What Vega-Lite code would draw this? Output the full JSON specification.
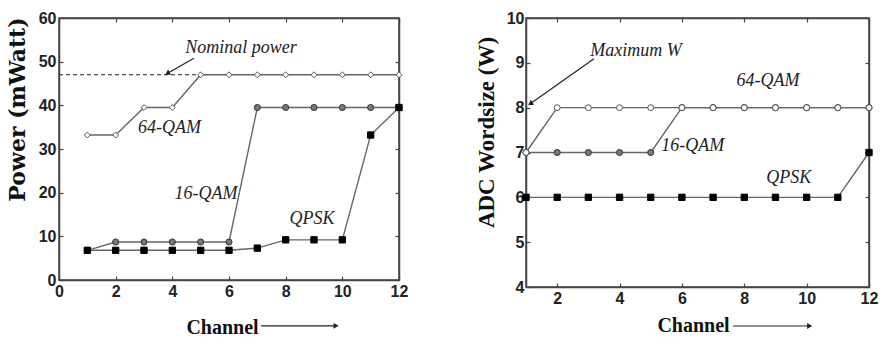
{
  "$schema": "https://vega.github.io/schema/vega-lite/v6.json",
  "background": "white",
  "padding": {"left": 5, "top": 9, "right": 0, "bottom": 0},
  "spacing": 65,
  "config": {
    "view": {"stroke": "#444", "strokeWidth": 1.5},
    "axis": {
      "grid": false,
      "labelFont": "Liberation Sans",
      "labelFontWeight": "bold",
      "labelFontSize": 16,
      "labelColor": "#222",
      "labelFlush": false,
      "tickColor": "#444",
      "tickSize": -4,
      "tickWidth": 1.2,
      "labelPadding": 7,
      "domainColor": "#444",
      "domainWidth": 1.5,
      "titleFont": "Liberation Serif",
      "titleFontWeight": "bold",
      "titleColor": "#111"
    },
    "text": {"font": "Liberation Serif", "fontStyle": "italic", "fontSize": 18, "color": "#222"}
  },
  "resolve": {"scale": {"shape": "independent", "fill": "independent", "stroke": "independent", "size": "independent"}},
  "datasets": {
    "power": [
      {"series": "16-QAM", "channel": 1, "value": 6.8},
      {"series": "16-QAM", "channel": 2, "value": 8.7},
      {"series": "16-QAM", "channel": 3, "value": 8.7},
      {"series": "16-QAM", "channel": 4, "value": 8.7},
      {"series": "16-QAM", "channel": 5, "value": 8.7},
      {"series": "16-QAM", "channel": 6, "value": 8.7},
      {"series": "16-QAM", "channel": 7, "value": 39.5},
      {"series": "16-QAM", "channel": 8, "value": 39.5},
      {"series": "16-QAM", "channel": 9, "value": 39.5},
      {"series": "16-QAM", "channel": 10, "value": 39.5},
      {"series": "16-QAM", "channel": 11, "value": 39.5},
      {"series": "16-QAM", "channel": 12, "value": 39.5},
      {"series": "64-QAM", "channel": 1, "value": 33.2},
      {"series": "64-QAM", "channel": 2, "value": 33.2},
      {"series": "64-QAM", "channel": 3, "value": 39.5},
      {"series": "64-QAM", "channel": 4, "value": 39.5},
      {"series": "64-QAM", "channel": 5, "value": 47},
      {"series": "64-QAM", "channel": 6, "value": 47},
      {"series": "64-QAM", "channel": 7, "value": 47},
      {"series": "64-QAM", "channel": 8, "value": 47},
      {"series": "64-QAM", "channel": 9, "value": 47},
      {"series": "64-QAM", "channel": 10, "value": 47},
      {"series": "64-QAM", "channel": 11, "value": 47},
      {"series": "64-QAM", "channel": 12, "value": 47},
      {"series": "QPSK", "channel": 1, "value": 6.8},
      {"series": "QPSK", "channel": 2, "value": 6.8},
      {"series": "QPSK", "channel": 3, "value": 6.8},
      {"series": "QPSK", "channel": 4, "value": 6.8},
      {"series": "QPSK", "channel": 5, "value": 6.8},
      {"series": "QPSK", "channel": 6, "value": 6.8},
      {"series": "QPSK", "channel": 7, "value": 7.3},
      {"series": "QPSK", "channel": 8, "value": 9.2},
      {"series": "QPSK", "channel": 9, "value": 9.2},
      {"series": "QPSK", "channel": 10, "value": 9.2},
      {"series": "QPSK", "channel": 11, "value": 33.2},
      {"series": "QPSK", "channel": 12, "value": 39.5}
    ],
    "wordsize": [
      {"series": "16-QAM", "channel": 1, "value": 7},
      {"series": "16-QAM", "channel": 2, "value": 7},
      {"series": "16-QAM", "channel": 3, "value": 7},
      {"series": "16-QAM", "channel": 4, "value": 7},
      {"series": "16-QAM", "channel": 5, "value": 7},
      {"series": "16-QAM", "channel": 6, "value": 8},
      {"series": "16-QAM", "channel": 7, "value": 8},
      {"series": "16-QAM", "channel": 8, "value": 8},
      {"series": "16-QAM", "channel": 9, "value": 8},
      {"series": "16-QAM", "channel": 10, "value": 8},
      {"series": "16-QAM", "channel": 11, "value": 8},
      {"series": "16-QAM", "channel": 12, "value": 8},
      {"series": "64-QAM", "channel": 1, "value": 7},
      {"series": "64-QAM", "channel": 2, "value": 8},
      {"series": "64-QAM", "channel": 3, "value": 8},
      {"series": "64-QAM", "channel": 4, "value": 8},
      {"series": "64-QAM", "channel": 5, "value": 8},
      {"series": "64-QAM", "channel": 6, "value": 8},
      {"series": "64-QAM", "channel": 7, "value": 8},
      {"series": "64-QAM", "channel": 8, "value": 8},
      {"series": "64-QAM", "channel": 9, "value": 8},
      {"series": "64-QAM", "channel": 10, "value": 8},
      {"series": "64-QAM", "channel": 11, "value": 8},
      {"series": "64-QAM", "channel": 12, "value": 8},
      {"series": "QPSK", "channel": 1, "value": 6},
      {"series": "QPSK", "channel": 2, "value": 6},
      {"series": "QPSK", "channel": 3, "value": 6},
      {"series": "QPSK", "channel": 4, "value": 6},
      {"series": "QPSK", "channel": 5, "value": 6},
      {"series": "QPSK", "channel": 6, "value": 6},
      {"series": "QPSK", "channel": 7, "value": 6},
      {"series": "QPSK", "channel": 8, "value": 6},
      {"series": "QPSK", "channel": 9, "value": 6},
      {"series": "QPSK", "channel": 10, "value": 6},
      {"series": "QPSK", "channel": 11, "value": 6},
      {"series": "QPSK", "channel": 12, "value": 7}
    ],
    "nominalL": [{"x": 0, "x2": 5, "y": 47}],
    "labelsL": [
      {"label": "Nominal power", "x": 6.42, "y": 53.1},
      {"label": "64-QAM", "x": 3.9, "y": 34.8},
      {"label": "16-QAM", "x": 5.19, "y": 19.7},
      {"label": "QPSK", "x": 8.93, "y": 14.0}
    ],
    "labelsR": [
      {"label": "Maximum W", "x": 4.53, "y": 9.26},
      {"label": "64-QAM", "x": 8.76, "y": 8.59},
      {"label": "16-QAM", "x": 6.35, "y": 7.14},
      {"label": "QPSK", "x": 9.43, "y": 6.43}
    ],
    "noteArrowL": [{"x": 4.76, "y": 50.8, "x2": 3.85, "y2": 47.4}],
    "axisArrowL": [{"x": 7.13, "y": -10.5, "x2": 9.75, "y2": -10.5}],
    "noteArrowR": [{"x": 3.18, "y": 9.09, "x2": 1.16, "y2": 8.1}],
    "axisArrowR": [{"x": 7.64, "y": 3.13, "x2": 10.07, "y2": 3.13}]
  },
  "hconcat": [
    {
      "width": 340,
      "height": 262,
      "layer": [
        {
          "data": {"name": "nominalL"},
          "mark": {"type": "rule", "strokeDash": [4, 3], "color": "#222", "strokeWidth": 1.2},
          "encoding": {
            "x": {"field": "x", "type": "quantitative", "scale": {"domain": [0, 12], "nice": false, "zero": false},
              "axis": {"orient": "bottom", "values": [0, 2, 4, 6, 8, 10, 12], "title": "Channel", "titleFontSize": 20, "titleX": 163, "titleY": 53, "titleBaseline": "alphabetic", "titleAlign": "center", "titleAnchor": null}},
            "x2": {"field": "x2"},
            "y": {"field": "y", "type": "quantitative", "scale": {"domain": [0, 60], "nice": false, "zero": false},
              "axis": {"orient": "left", "values": [0, 10, 20, 30, 40, 50, 60], "title": "Power (mWatt)", "titleFont": "DejaVu Serif", "titleFontSize": 22, "titleX": -42, "titleY": 91, "titleBaseline": "middle", "titleAlign": "center", "titleAngle": -90}}
          }
        },
        {
          "data": {"name": "power"},
          "mark": {"type": "line", "color": "#666", "strokeWidth": 1.4},
          "encoding": {
            "x": {"field": "channel", "type": "quantitative", "axis": {"orient": "top", "values": [0, 2, 4, 6, 8, 10, 12], "labels": false, "title": null}},
            "y": {"field": "value", "type": "quantitative", "axis": {"orient": "right", "values": [0, 10, 20, 30, 40, 50, 60], "labels": false, "title": null}},
            "detail": {"field": "series"}
          }
        },
        {
          "data": {"name": "power"},
          "mark": {"type": "point", "filled": true, "strokeWidth": 1, "opacity": 1, "clip": false},
          "encoding": {
            "x": {"field": "channel", "type": "quantitative", "axis": null},
            "y": {"field": "value", "type": "quantitative", "axis": null},
            "shape": {"field": "series", "scale": {"domain": ["64-QAM", "16-QAM", "QPSK"], "range": ["diamond", "circle", "square"]}, "legend": null},
            "fill": {"field": "series", "scale": {"domain": ["64-QAM", "16-QAM", "QPSK"], "range": ["#ffffff", "#777777", "#000000"]}, "legend": null},
            "stroke": {"field": "series", "scale": {"domain": ["64-QAM", "16-QAM", "QPSK"], "range": ["#555555", "#333333", "#000000"]}, "legend": null},
            "size": {"field": "series", "scale": {"domain": ["64-QAM", "16-QAM", "QPSK"], "range": [35, 40, 50]}, "legend": null}
          }
        },
        {
          "data": {"name": "labelsL"},
          "mark": {"type": "text", "align": "center", "baseline": "middle"},
          "encoding": {
            "x": {"field": "x", "type": "quantitative", "axis": null},
            "y": {"field": "y", "type": "quantitative", "axis": null},
            "text": {"field": "label"}
          }
        },
        {
          "data": {"name": "noteArrowL"},
          "mark": {"type": "rule", "color": "#222", "strokeWidth": 1.2},
          "encoding": {
            "x": {"field": "x", "type": "quantitative", "axis": null},
            "y": {"field": "y", "type": "quantitative", "axis": null},
            "x2": {"field": "x2"},
            "y2": {"field": "y2"}
          }
        },
        {
          "data": {"name": "noteArrowL"},
          "mark": {"type": "point", "shape": "triangle", "angle": 240, "size": 35, "filled": true, "color": "#222", "opacity": 1},
          "encoding": {
            "x": {"field": "x2", "type": "quantitative", "axis": null},
            "y": {"field": "y2", "type": "quantitative", "axis": null}
          }
        },
        {
          "data": {"name": "axisArrowL"},
          "mark": {"type": "rule", "color": "#222", "strokeWidth": 1.2, "clip": false},
          "encoding": {
            "x": {"field": "x", "type": "quantitative", "axis": null},
            "y": {"field": "y", "type": "quantitative", "axis": null},
            "x2": {"field": "x2"}
          }
        },
        {
          "data": {"name": "axisArrowL"},
          "mark": {"type": "point", "shape": "triangle", "angle": 90, "size": 35, "filled": true, "color": "#222", "opacity": 1, "clip": false},
          "encoding": {
            "x": {"field": "x2", "type": "quantitative", "axis": null},
            "y": {"field": "y2", "type": "quantitative", "axis": null}
          }
        }
      ],
      "resolve": {"axis": {"x": "independent", "y": "independent"}}
    },
    {
      "width": 343,
      "height": 269,
      "layer": [
        {
          "data": {"name": "wordsize"},
          "mark": {"type": "line", "color": "#666", "strokeWidth": 1.4},
          "encoding": {
            "x": {"field": "channel", "type": "quantitative", "scale": {"domain": [1, 12], "nice": false, "zero": false},
              "axis": {"orient": "bottom", "values": [2, 4, 6, 8, 10, 12], "title": "Channel", "titleFontSize": 20, "titleX": 167, "titleY": 44, "titleBaseline": "alphabetic", "titleAlign": "center", "titleAnchor": null}},
            "y": {"field": "value", "type": "quantitative", "scale": {"domain": [4, 10], "nice": false, "zero": false},
              "axis": {"orient": "left", "values": [4, 5, 6, 7, 8, 9, 10], "title": "ADC Wordsize (W)", "titleFontSize": 23, "titleX": -40, "titleY": 114, "titleBaseline": "middle", "titleAlign": "center", "titleAngle": -90, "labelPadding": 6}},
            "detail": {"field": "series"}
          }
        },
        {
          "data": {"name": "wordsize"},
          "mark": {"type": "point", "filled": true, "strokeWidth": 1, "opacity": 1, "clip": false},
          "encoding": {
            "x": {"field": "channel", "type": "quantitative", "axis": {"orient": "top", "values": [2, 4, 6, 8, 10, 12], "labels": false, "title": null}},
            "y": {"field": "value", "type": "quantitative", "axis": {"orient": "right", "values": [4, 5, 6, 7, 8, 9, 10], "labels": false, "title": null}},
            "shape": {"field": "series", "scale": {"domain": ["64-QAM", "16-QAM", "QPSK"], "range": ["circle", "circle", "square"]}, "legend": null},
            "fill": {"field": "series", "scale": {"domain": ["64-QAM", "16-QAM", "QPSK"], "range": ["#ffffff", "#777777", "#000000"]}, "legend": null},
            "stroke": {"field": "series", "scale": {"domain": ["64-QAM", "16-QAM", "QPSK"], "range": ["#555555", "#333333", "#000000"]}, "legend": null},
            "size": {"field": "series", "scale": {"domain": ["64-QAM", "16-QAM", "QPSK"], "range": [35, 40, 50]}, "legend": null}
          }
        },
        {
          "data": {"name": "labelsR"},
          "mark": {"type": "text", "align": "center", "baseline": "middle"},
          "encoding": {
            "x": {"field": "x", "type": "quantitative", "axis": null},
            "y": {"field": "y", "type": "quantitative", "axis": null},
            "text": {"field": "label"}
          }
        },
        {
          "data": {"name": "noteArrowR"},
          "mark": {"type": "rule", "color": "#222", "strokeWidth": 1.2},
          "encoding": {
            "x": {"field": "x", "type": "quantitative", "axis": null},
            "y": {"field": "y", "type": "quantitative", "axis": null},
            "x2": {"field": "x2"},
            "y2": {"field": "y2"}
          }
        },
        {
          "data": {"name": "noteArrowR"},
          "mark": {"type": "point", "shape": "triangle", "angle": 235, "size": 35, "filled": true, "color": "#222", "opacity": 1},
          "encoding": {
            "x": {"field": "x2", "type": "quantitative", "axis": null},
            "y": {"field": "y2", "type": "quantitative", "axis": null}
          }
        },
        {
          "data": {"name": "axisArrowR"},
          "mark": {"type": "rule", "color": "#222", "strokeWidth": 1.2, "clip": false},
          "encoding": {
            "x": {"field": "x", "type": "quantitative", "axis": null},
            "y": {"field": "y", "type": "quantitative", "axis": null},
            "x2": {"field": "x2"}
          }
        },
        {
          "data": {"name": "axisArrowR"},
          "mark": {"type": "point", "shape": "triangle", "angle": 90, "size": 35, "filled": true, "color": "#222", "opacity": 1, "clip": false},
          "encoding": {
            "x": {"field": "x2", "type": "quantitative", "axis": null},
            "y": {"field": "y2", "type": "quantitative", "axis": null}
          }
        }
      ],
      "resolve": {"axis": {"x": "independent", "y": "independent"}}
    }
  ]
}
